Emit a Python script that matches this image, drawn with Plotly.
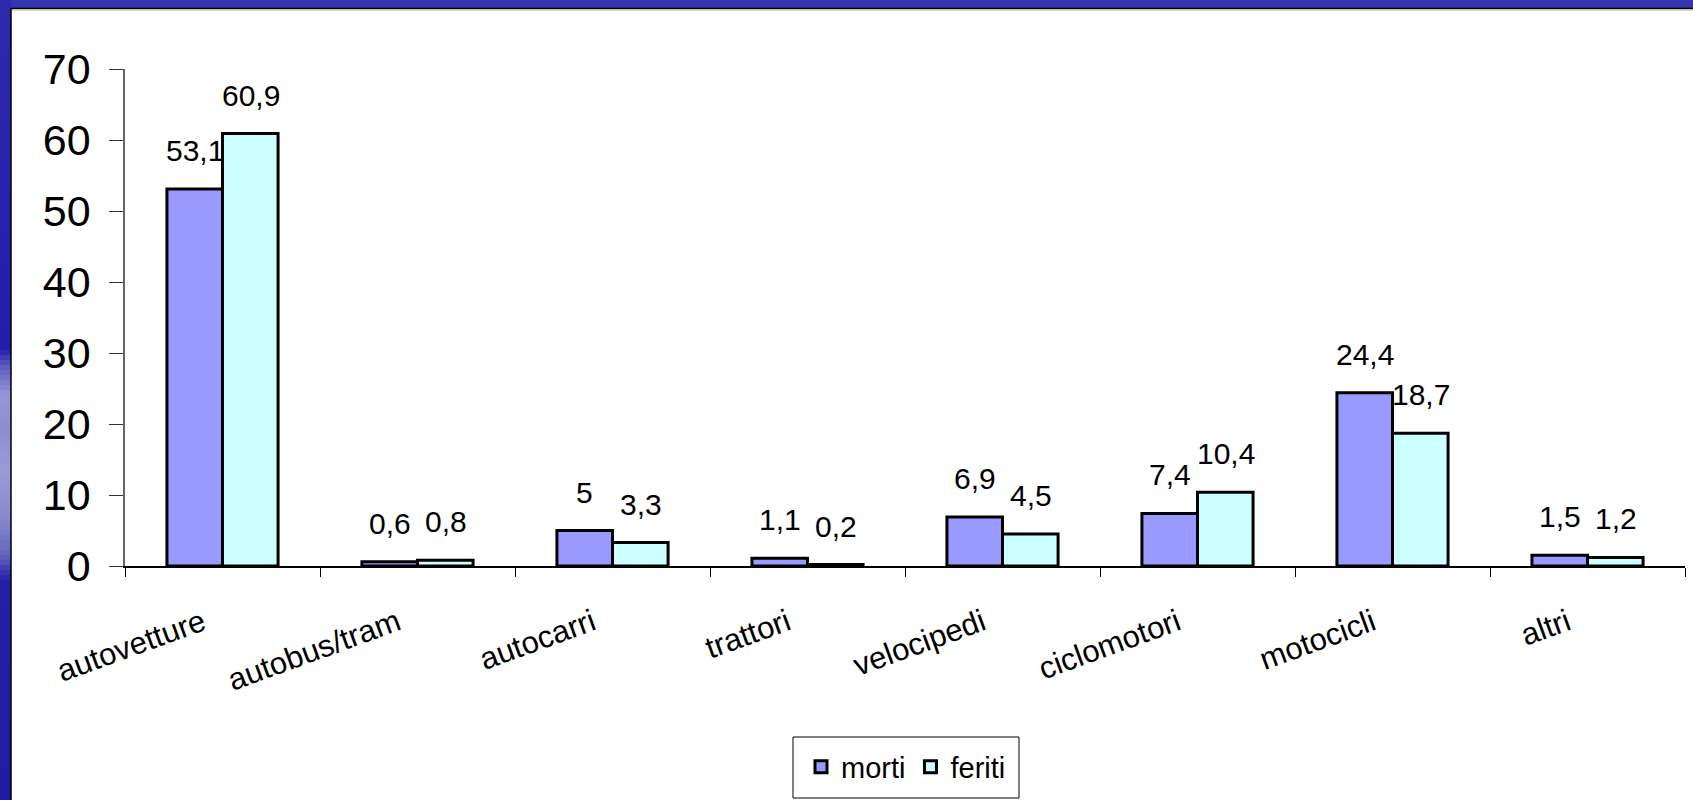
import plotly.graph_objects as go

categories = ["autovetture", "autobus/tram", "autocarri", "trattori",
              "velocipedi", "ciclomotori", "motocicli", "altri"]
morti = [53.1, 0.6, 5, 1.1, 6.9, 7.4, 24.4, 1.5]
feriti = [60.9, 0.8, 3.3, 0.2, 4.5, 10.4, 18.7, 1.2]
y_ticks = [0, 10, 20, 30, 40, 50, 60, 70]

W, H = 1693, 800
L, R, T, B = 125, 8, 69, 234
PW, PH = W - L - R, H - T - B

def px_x(p):
    return (p - L) / PW

def px_y(p):
    return (H - B - p) / PH

def fmt(v):
    return ("%g" % v).replace(".", ",")

FONT = "Arial, Liberation Sans, sans-serif"

fig = go.Figure()
fig.add_trace(go.Bar(name="morti", x=categories, y=morti,
                     marker=dict(color="#9999FF", line=dict(color="black", width=3))))
fig.add_trace(go.Bar(name="feriti", x=categories, y=feriti,
                     marker=dict(color="#CCFFFF", line=dict(color="black", width=3))))

# value labels
bar_half = 28
for i, c in enumerate(categories):
    for vals, sh in ((morti, -bar_half), (feriti, bar_half)):
        fig.add_annotation(x=c, y=vals[i], text=fmt(vals[i]), showarrow=False,
                           xshift=sh, yanchor="bottom", yshift=20,
                           font=dict(family=FONT, size=30, color="black"))

shapes = []
# top band
shapes.append(dict(type="rect", xref="paper", yref="paper",
                   x0=px_x(0), x1=px_x(W), y0=px_y(8), y1=px_y(0),
                   fillcolor="#3535B0", line=dict(width=0)))
shapes.append(dict(type="line", xref="paper", yref="paper",
                   x0=px_x(11), x1=px_x(W), y0=px_y(8.5), y1=px_y(8.5),
                   line=dict(color="black", width=1.5)))
shapes.append(dict(type="line", xref="paper", yref="paper",
                   x0=px_x(12), x1=px_x(W), y0=px_y(10), y1=px_y(10),
                   line=dict(color="#BBBBBB", width=1)))

# left band: vertical gradient (decoration)
keys = [(0, (46, 40, 172)), (350, (34, 30, 168)), (365, (90, 88, 190)),
        (395, (150, 150, 215)), (430, (140, 140, 210)), (470, (155, 155, 218)),
        (520, (135, 135, 205)), (555, (100, 100, 190)), (580, (36, 32, 165)),
        (800, (30, 28, 160))]
def grad(y):
    for (ya, ca), (yb, cb) in zip(keys, keys[1:]):
        if ya <= y <= yb:
            t = (y - ya) / (yb - ya)
            return "rgb(%d,%d,%d)" % tuple(round(a + (b - a) * t) for a, b in zip(ca, cb))
    return "rgb(30,28,160)"
step = 5
for y0 in range(0, H, step):
    shapes.append(dict(type="rect", xref="paper", yref="paper",
                       x0=px_x(0), x1=px_x(11), y0=px_y(y0 + step), y1=px_y(y0),
                       fillcolor=grad(y0 + step / 2), line=dict(width=0)))
shapes.append(dict(type="line", xref="paper", yref="paper",
                   x0=px_x(11), x1=px_x(11), y0=px_y(8), y1=px_y(H),
                   line=dict(color="black", width=1.5)))

# legend frame
shapes.append(dict(type="rect", xref="paper", yref="paper",
                   x0=px_x(793), x1=px_x(1019), y0=px_y(798), y1=px_y(737),
                   fillcolor="rgba(0,0,0,0)", line=dict(color="black", width=1)))

fig.update_layout(
    width=W, height=H,
    margin=dict(l=L, r=R, t=T, b=B, autoexpand=False),
    paper_bgcolor="white", plot_bgcolor="white",
    barmode="group", bargap=0.43, bargroupgap=0,
    shapes=shapes,
    showlegend=True,
    legend=dict(orientation="h", x=px_x(906), xanchor="center", y=px_y(767), yanchor="middle",
                borderwidth=0, bgcolor="rgba(0,0,0,0)",
                font=dict(family=FONT, size=29, color="black"),
                itemwidth=30, tracegroupgap=0),
    xaxis=dict(range=[-0.5, 7.5], showline=True, linecolor="black", linewidth=1.5,
               ticks="outside", tickson="boundaries", ticklen=9, tickcolor="black",
               tickangle=-20, showgrid=False, zeroline=False,
               ticklabelstandoff=25, ticklabelshift=-20,
               tickfont=dict(family=FONT, size=31, color="black")),
    yaxis=dict(range=[0, 70], tickvals=y_ticks, showline=True, linecolor="#666666",
               linewidth=1.5, ticks="outside", ticklen=14, tickcolor="#333333",
               showgrid=False, zeroline=False, ticklabelstandoff=10,
               tickfont=dict(family=FONT, size=43, color="black")),
)

fig.write_html("out.html", config={"displayModeBar": False},
               post_script="document.body.style.margin='0px';document.body.style.overflow='hidden';")
